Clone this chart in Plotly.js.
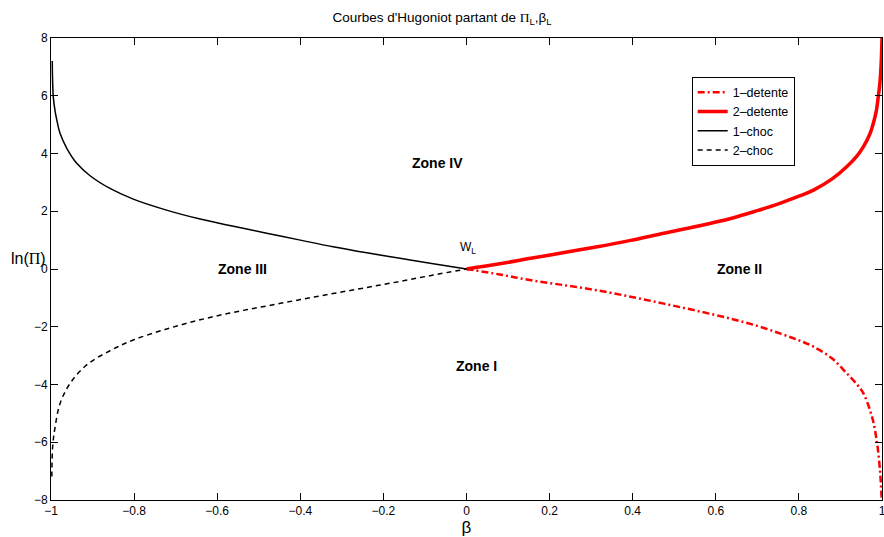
<!DOCTYPE html>
<html>
<head>
<meta charset="utf-8">
<script src="https://cdn.plot.ly/plotly-3.0.1.min.js"></script>
<style>html,body{margin:0;padding:0;background:#fff}#chart{width:884px;height:537px}</style>
</head>
<body>
<div id="chart"></div>
<script>
// 1-detente (red dash-dot)
const x1d = [0, 0.08, 0.155, 0.235, 0.315, 0.395, 0.475, 0.555, 0.636, 0.7, 0.754, 0.8, 0.835, 0.88, 0.915, 0.94, 0.955, 0.971, 0.98, 0.987, 0.991, 0.995, 0.997, 0.999, 1.0];
const y1d = [0, -0.19, -0.39, -0.56, -0.74, -0.96, -1.2, -1.45, -1.72, -1.97, -2.23, -2.47, -2.69, -3.1, -3.61, -4.0, -4.3, -4.88, -5.35, -5.92, -6.35, -6.95, -7.35, -7.88, -8.0];
// 2-detente (red solid)
const x2d = [0, 0.08, 0.155, 0.235, 0.315, 0.395, 0.475, 0.555, 0.636, 0.7, 0.754, 0.8, 0.835, 0.88, 0.915, 0.94, 0.955, 0.97, 0.979, 0.986, 0.991, 0.995, 0.998, 1.0];
const y2d = [0, 0.18, 0.37, 0.57, 0.77, 0.99, 1.24, 1.48, 1.75, 2.02, 2.27, 2.52, 2.73, 3.12, 3.54, 3.92, 4.23, 4.65, 5.04, 5.45, 5.96, 6.45, 7.12, 8.0];
// 1-choc (black solid)
const x1c = [-0.997, -0.9945, -0.99, -0.986, -0.978, -0.962, -0.938, -0.906, -0.858, -0.802, -0.722, -0.641, -0.561, -0.481, -0.4, -0.321, -0.24, -0.16, -0.08, 0];
const y1c = [7.2, 5.96, 5.45, 5.16, 4.69, 4.18, 3.66, 3.23, 2.79, 2.42, 2.04, 1.73, 1.48, 1.24, 1.0, 0.77, 0.56, 0.37, 0.18, 0];
// 2-choc (black dashed)
const x2c = [-0.998, -0.996, -0.99, -0.978, -0.954, -0.914, -0.858, -0.802, -0.722, -0.641, -0.561, -0.481, -0.4, -0.321, -0.24, -0.16, -0.08, 0];
const y2c = [-7.19, -6.15, -5.46, -4.65, -3.96, -3.32, -2.83, -2.46, -2.08, -1.76, -1.5, -1.28, -1.06, -0.85, -0.64, -0.43, -0.21, 0];

const names = ['1–detente', '2–detente', '1–choc', '2–choc'];
const zoneText = ['<b>Zone IV</b>', '<b>Zone III</b>', '<b>Zone II</b>', '<b>Zone I</b>'];
const zoneX = [-0.069, -0.54, 0.658, 0.023];
const zoneY = [3.67, 0, 0, -3.36];
const xTicks = [-1, -0.8, -0.6, -0.4, -0.2, 0, 0.2, 0.4, 0.6, 0.8, 1];
const xTickText = ['−1', '−0.8', '−0.6', '−0.4', '−0.2', '0', '0.2', '0.4', '0.6', '0.8', '1'];
const yTicks = [-8, -6, -4, -2, 0, 2, 4, 6, 8];
const yTickText = ['−8', '−6', '−4', '−2', '0', '2', '4', '6', '8'];

const F = 'Liberation Sans, Arial, Helvetica, sans-serif';
const SERIF = 'Liberation Serif';

const traces = [
  {x: x1d, y: y1d, name: names[0], mode: 'lines', line: {color: '#ff0000', width: 2.5, dash: '7px,3px,2px,3px', shape: 'spline', smoothing: 1}},
  {x: x2d, y: y2d, name: names[1], mode: 'lines', line: {color: '#ff0000', width: 3.5, shape: 'spline', smoothing: 1}},
  {x: x1c, y: y1c, name: names[2], mode: 'lines', line: {color: '#000000', width: 1.5, shape: 'spline', smoothing: 1}},
  {x: x2c, y: y2c, name: names[3], mode: 'lines', line: {color: '#000000', width: 1.5, dash: '5px,4px', shape: 'spline', smoothing: 1}}
];

const annotations = zoneText.map((t, i) => ({
  x: zoneX[i], y: zoneY[i], xref: 'x', yref: 'y', text: t, showarrow: false,
  xanchor: 'center', yanchor: 'middle',
  font: {family: F, size: 14, color: '#000'}
}));
annotations.push({x: 0.003, y: 0.72, xref: 'x', yref: 'y', text: 'W<sub>L</sub>', showarrow: false,
  xanchor: 'center', yanchor: 'middle', font: {family: F, size: 12, color: '#000'}});
annotations.push({x: -0.0265, y: 0.38, xref: 'paper', yref: 'y', xanchor: 'center', yanchor: 'middle',
  text: 'ln(<span style="font-family:' + SERIF + '">Π</span>)', showarrow: false,
  font: {family: F, size: 16, color: '#000'}});

const layout = {
  width: 884, height: 537,
  margin: {l: 51, r: 2, t: 38, b: 37},
  paper_bgcolor: '#fff', plot_bgcolor: '#fff',
  font: {family: F, size: 12, color: '#000'},
  title: {text: 'Courbes d\'Hugoniot partant de <span style="font-family:' + SERIF + '">Π</span><sub>L</sub>,β<sub>L</sub>',
    x: 0.5, xanchor: 'center', y: 0.968, yanchor: 'middle',
    font: {family: F, size: 13.5, color: '#000'}},
  xaxis: {range: [-1, 1], tickvals: xTicks, ticktext: xTickText, ticks: 'inside', ticklen: 7, tickcolor: '#000',
    showline: true, linecolor: '#000', linewidth: 1, mirror: 'ticks', showgrid: false, zeroline: false,
    ticklabeloverflow: 'allow',
    tickfont: {family: F, size: 12, color: '#000'},
    title: {text: 'β', font: {family: F, size: 17, color: '#000'}, standoff: 4}},
  yaxis: {range: [-8, 8], tickvals: yTicks, ticktext: yTickText, ticks: 'inside', ticklen: 7, tickcolor: '#000',
    showline: true, linecolor: '#000', linewidth: 1, mirror: 'ticks', showgrid: false, zeroline: false,
    ticklabeloverflow: 'allow',
    tickfont: {family: F, size: 12, color: '#000'}},
  showlegend: true,
  legend: {x: 0.771, y: 0.9163, xanchor: 'left', yanchor: 'top', bordercolor: '#000', borderwidth: 1,
    bgcolor: '#fff', font: {family: F, size: 12.5, color: '#000'}, itemwidth: 30, tracegroupgap: 0},
  annotations: annotations
};

Plotly.newPlot('chart', traces, layout, {displayModeBar: false, staticPlot: true});
</script>
</body>
</html>
